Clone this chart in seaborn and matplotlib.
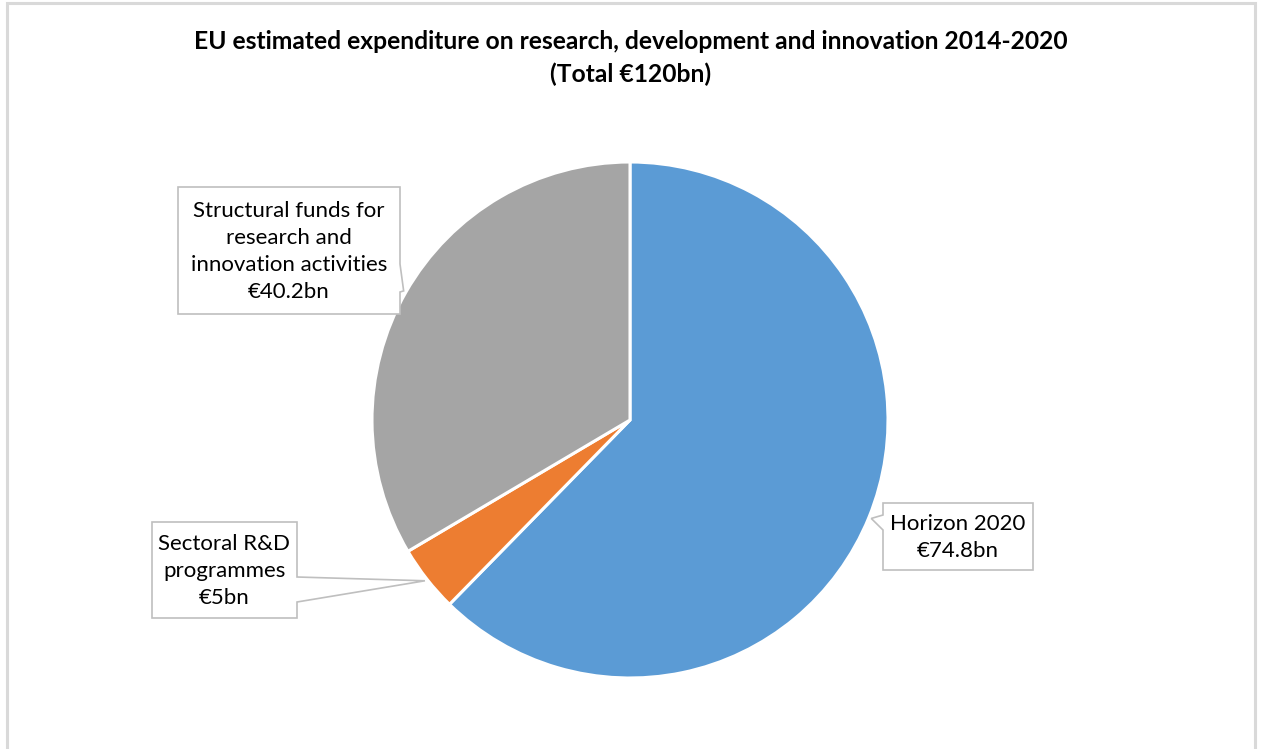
import numpy as np
import matplotlib
matplotlib.use("Agg")
import matplotlib.pyplot as plt
from matplotlib.patches import Polygon, Rectangle
import seaborn as sns

# ---- data ----
categories = ["Horizon 2020", "Sectoral R&D\nprogrammes", "Structural funds for\nresearch and\ninnovation activities"]
values = [74.8, 5.0, 40.2]
value_labels = ["€74.8bn", "€5bn", "€40.2bn"]
title_text = "EU estimated expenditure on research, development and innovation 2014-2020\n(Total €120bn)"

sns.set_style("white")
plt.rcParams['font.family'] = ['Lato', 'DejaVu Sans']
colors = sns.color_palette(["#5B9BD5", "#ED7D31", "#A5A5A5"])

W, H = 1263, 749
fig = plt.figure(figsize=(W / 100, H / 100), dpi=100)
ax = fig.add_axes([0, 0, 1, 1])
ax.set_xlim(0, W)
ax.set_ylim(0, H)
ax.axis("off")

def Y(py):
    return H - py

# outer chart frame
ax.add_patch(Rectangle((7, Y(800)), 1248, 800 - 3, fill=False, edgecolor="#D9D9D9", linewidth=2.2, zorder=0))

cx, cy, R = 630, 420, 258
wedges, _ = ax.pie(values, colors=colors, startangle=90, counterclock=False,
                   center=(cx, Y(cy)), radius=R,
                   wedgeprops=dict(edgecolor="white", linewidth=2.2))
ax.set_xlim(0, W)
ax.set_ylim(0, H)

# tips of callouts at wedge mid-angles
total = sum(values)
angles = []
start = 90.0
for v in values:
    span = v / total * 360.0
    angles.append(np.deg2rad(start - span / 2))
    start -= span
tips = [(cx + 1.01 * R * np.cos(a), cy - 1.01 * R * np.sin(a)) for a in angles]

# callout layout (pixel coords): box (x0, y0, x1, y1), side, base (b0, b1)
layout = [
    ((883, 503, 1033, 570), "left", (515, 530)),
    ((152, 522, 297, 618), "right", (577, 602)),
    ((178, 187, 400, 314), "right", (264, 292)),
]

for (box, side, base), tip, cat, val in zip(layout, tips, categories, value_labels):
    x0, y0, x1, y1 = box
    b0, b1 = base
    if side == "right":
        pts = [(x0, y0), (x1, y0), (x1, b0), tip, (x1, b1), (x1, y1), (x0, y1)]
    else:
        pts = [(x0, y0), (x1, y0), (x1, y1), (x0, y1), (x0, b1), tip, (x0, b0)]
    pts = [(px, Y(py)) for px, py in pts]
    ax.add_patch(Polygon(pts, closed=True, facecolor="white", edgecolor="#BFBFBF", linewidth=1.2, zorder=5))
    ax.text((x0 + x1) / 2, Y((y0 + y1) / 2 + 1), cat + "\n" + val, ha="center", va="center",
            fontsize=16, color="#000000", linespacing=1.45, zorder=6)

ax.text(631, Y(58), title_text, ha="center", va="center", fontsize=17.7, fontweight="bold",
        color="#000000", linespacing=1.45)

fig.savefig("out.png", dpi=100, facecolor="white")
